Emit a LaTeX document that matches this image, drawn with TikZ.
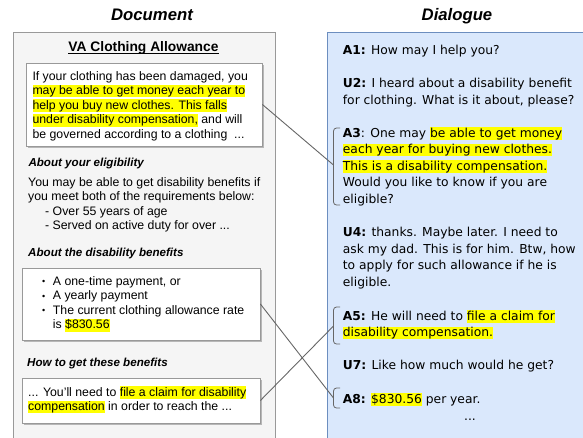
\documentclass[tikz,border=0pt]{standalone}
\usepackage{fontspec}
\setmainfont{Liberation Sans}
\newfontfamily\dlgfont{DejaVu Sans}
\usetikzlibrary{shadows}
\definecolor{panelgray}{HTML}{F5F5F5}
\definecolor{panelline}{HTML}{999999}
\definecolor{dlgblue}{HTML}{DAE8FC}
\definecolor{dlgline}{HTML}{6C8EBF}
\definecolor{linkgray}{HTML}{666666}
\definecolor{hlyellow}{HTML}{FFFF00}
\newcommand{\hl}[1]{{\setlength{\fboxsep}{0pt}\colorbox{hlyellow}{\rule[-0.22em]{0pt}{1.02em}#1}}}

\begin{document}
\begin{tikzpicture}[x=1pt,y=-1pt,
  panel/.style={anchor=north west,inner sep=0pt,line width=1.2pt},
  docbox/.style={draw=panelline,fill=white,line width=0.8pt,inner sep=0pt,
    drop shadow={shadow xshift=1.5pt,shadow yshift=-1.5pt,fill=black,opacity=.25}},
  doctext/.style={anchor=base west,inner sep=0pt,align=left,font=\fontsize{12.3}{14.6}\selectfont},
  dlgtext/.style={anchor=base west,inner sep=0pt,align=left,font=\dlgfont\fontsize{12.3}{16.5}\selectfont},
  heading/.style={anchor=base west,inner sep=0pt,font=\fontsize{11.6}{14}\selectfont\bfseries\itshape},
  title/.style={anchor=base,inner sep=0pt,font=\fontsize{16.7}{20}\selectfont\bfseries\itshape},
  bracket/.style={draw=linkgray,line width=0.8pt,rounded corners=3pt},
  link/.style={draw=linkgray,line width=0.9pt}]
\useasboundingbox (0,0) rectangle (583,437);
\clip (0,0) rectangle (583,437);

\node[title] (doctitle) at (152,20) {Document};
\node[title] (dlgtitle) at (457,20) {Dialogue};

\node[panel,draw=panelline,fill=panelgray,minimum width=262,minimum height=420] (docpanel) at (13,32) {};
\node[panel,draw=dlgline,fill=dlgblue,minimum width=270,minimum height=420] (dlgpanel) at (327,32) {};

% document side (multi-line texts sit on their last baseline)
\node[anchor=base,inner sep=0pt,font=\fontsize{13.8}{16}\selectfont\bfseries] (vatitle) at (143.5,51) {VA Clothing Allowance};
\draw[line width=0.8pt] ([yshift=-2.2pt]vatitle.base west) -- ([yshift=-2.2pt]vatitle.base east);

\node[docbox,minimum width=236,minimum height=83] (info1) at (144,104.5) {};
\node[doctext] (info1txt) at (32.3,138.4) {If your clothing has been damaged, you\\
\hl{may be able to get money each year to}\\
\hl{help you buy new clothes. This falls}\\
\hl{under disability compensation,} and will\\
be governed according to a clothing\ \ ...};

\node[heading] (elighead) at (28.3,166) {About your eligibility};
\node[doctext] (eligtxt) at (28,229.8) {You may be able to get disability benefits if\\
you meet both of the requirements below:\\
\hspace*{17pt}- Over 55 years of age\\
\hspace*{17pt}- Served on active duty for over ...};

\node[heading] (benhead) at (28,256) {About the disability benefits};
\node[docbox,minimum width=238,minimum height=72] (info2) at (141,304) {};
\node[doctext] (info2txt) at (42,328.8) {\makebox[10.7pt][l]{\raisebox{0.5pt}{\fontsize{9}{9}\selectfont •}}A one-time payment, or\\
\makebox[10.7pt][l]{\raisebox{0.5pt}{\fontsize{9}{9}\selectfont •}}A yearly payment\\
\makebox[10.7pt][l]{\raisebox{0.5pt}{\fontsize{9}{9}\selectfont •}}The current clothing allowance rate\\
\hspace*{10.7pt}is \hl{\$830.56}};

\node[heading] (howhead) at (27,366) {How to get these benefits};
\node[docbox,minimum width=238,minimum height=45] (info3) at (141,400.5) {};
\node[doctext] (info3txt) at (28,410.6) {... You'll need to \hl{file a claim for disability}\\
\hl{compensation} in order to reach the ...};

% dialogue side
\node[dlgtext] (a1) at (342.7,54) {\textbf{A1:} How may I help you?};
\node[dlgtext] (u2) at (342.7,104) {\textbf{U2:} I heard about a disability benefit\\
for clothing. What is it about, please?};
\node[dlgtext] (a3) at (342.7,203) {\textbf{A3}: One may \hl{be able to get money}\\
\hl{each year for buying new clothes.}\\
\hl{This is a disability compensation.}\\
Would you like to know if you are\\
eligible?};
\node[dlgtext] (u4) at (342.7,286) {\textbf{U4:} thanks. Maybe later. I need to\\
ask my dad. This is for him. Btw, how\\
to apply for such allowance if he is\\
eligible.};
\node[dlgtext] (a5) at (342.7,336.5) {\textbf{A5:} He will need to \hl{file a claim for}\\
\hl{disability compensation.}};
\node[dlgtext] (u7) at (342.7,369) {\textbf{U7:} Like how much would he get?};
\node[dlgtext] (a8) at (342.7,403) {\textbf{A8:} \hl{\$830.56} per year.};
\node[dlgtext,anchor=base] (dots) at (470,420) {...};

\draw[bracket] (340,128) -- (333.5,128) -- (333.5,205) -- (340,205);
\draw[bracket] (340,307) -- (333.5,307) -- (333.5,344) -- (340,344);
\draw[bracket] (340,388) -- (333.5,388) -- (333.5,408) -- (340,408);
\coordinate (brA3) at (333.5,165);
\coordinate (brA5) at (333.5,326);
\coordinate (brA8) at (333.5,398);

\draw[link] (info1.east) -- (brA3);
\draw[link] (info2.east) -- (brA8);
\draw[link] (info3.east) -- (brA5);

\end{tikzpicture}
\end{document}
